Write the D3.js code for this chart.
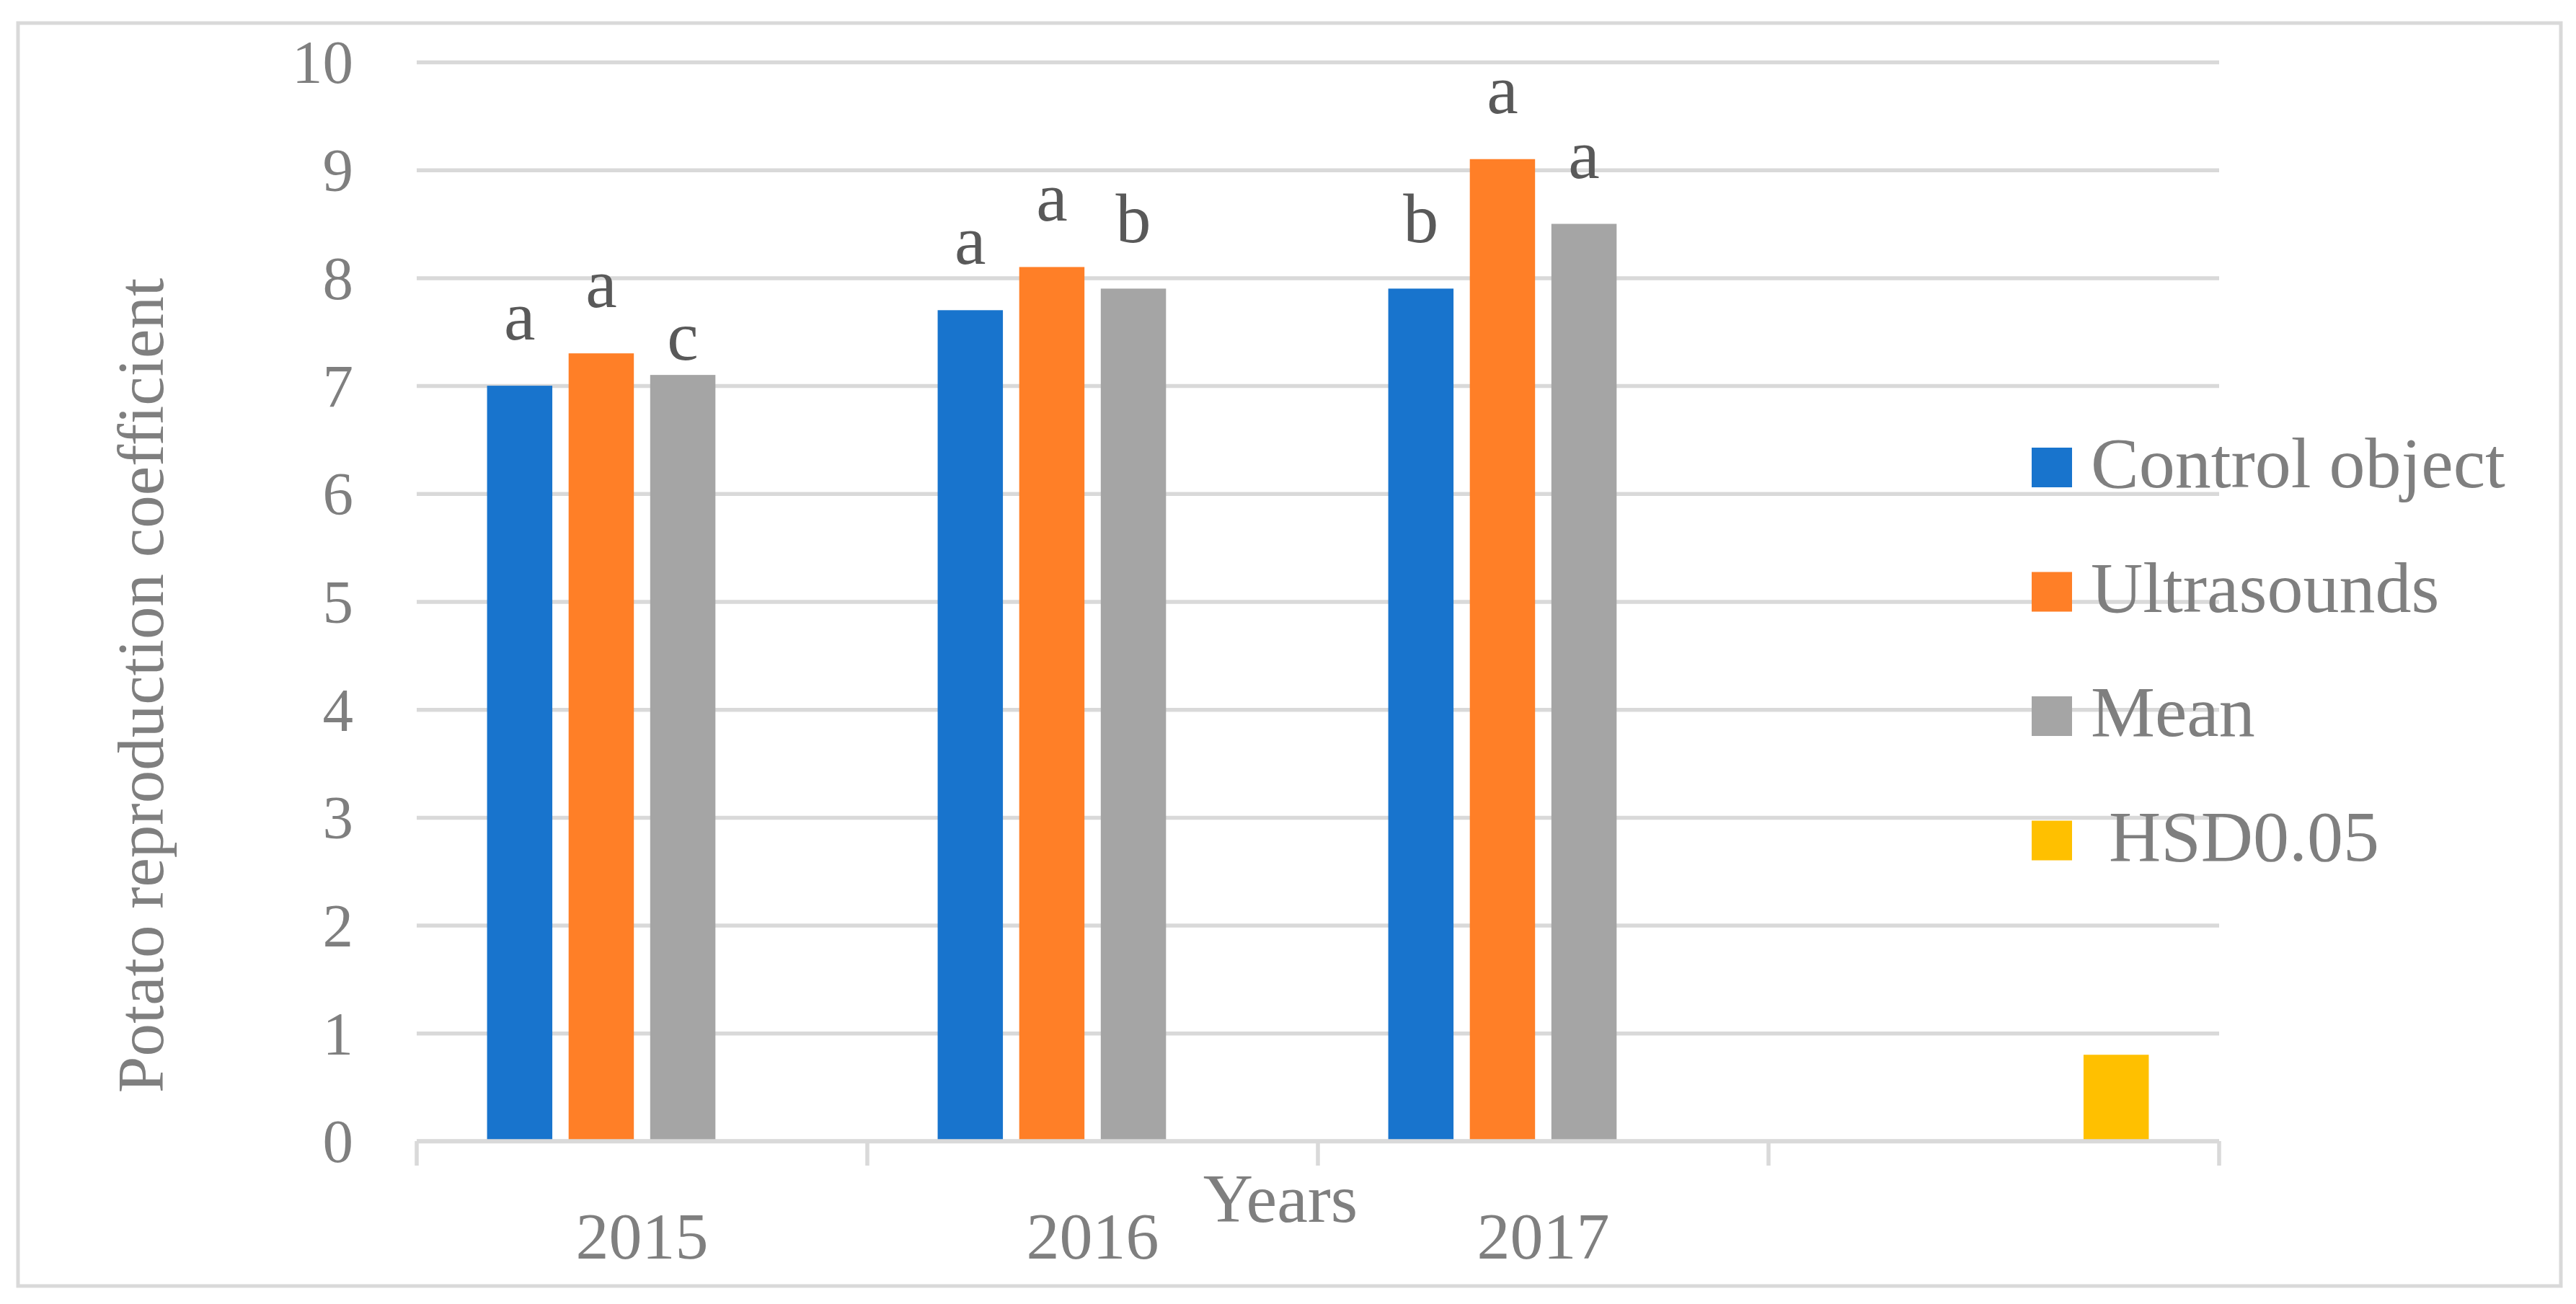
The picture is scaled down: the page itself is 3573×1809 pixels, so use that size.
<!DOCTYPE html>
<html>
<head>
<meta charset="utf-8">
<script src="https://cdn.jsdelivr.net/npm/d3@7"></script>
<style>
  html, body { margin: 0; padding: 0; background: #fff; }
  svg { display: block; }
  text { font-family: "Liberation Serif", "Times New Roman", serif; }
</style>
</head>
<body>
<svg id="chart" width="3573" height="1809"></svg>
<script>
// ---- data ----
const categories = ["2015", "2016", "2017", ""];
const seriesNames = ["Control object", "Ultrasounds", "Mean", " HSD0.05"];
const controlValues = [7.0, 7.7, 7.9, null];
const ultrasoundValues = [7.3, 8.1, 9.1, null];
const meanValues = [7.1, 7.9, 8.5, null];
const hsdValues = [null, null, null, 0.8];
const controlLetters = ["a", "a", "b", null];
const ultrasoundLetters = ["a", "a", "a", null];
const meanLetters = ["c", "b", "a", null];
const yTicks = [0, 1, 2, 3, 4, 5, 6, 7, 8, 9, 10];
const yTitle = "Potato reproduction coefficient";
const xTitle = "Years";

// ---- style ----
const colors = ["#1874cd", "#ff7f27", "#a5a5a5", "#ffc000"];
const gridColor = "#d9d9d9";
const textGray = "#7f7f7f";
const letterColor = "#595959";

const seriesValues = [controlValues, ultrasoundValues, meanValues, hsdValues];
const seriesLetters = [controlLetters, ultrasoundLetters, meanLetters, null];

const svg = d3.select("#chart");

// outer frame
svg.append("rect")
  .attr("x", 25).attr("y", 32).attr("width", 3527).attr("height", 1752)
  .attr("fill", "#fff").attr("stroke", gridColor).attr("stroke-width", 5);

const plot = { left: 578, right: 3078, top: 86, bottom: 1583 };

const x = d3.scaleBand().domain(categories.map((c, i) => i))
  .range([plot.left, plot.right]).paddingInner(0).paddingOuter(0);
const xs = d3.scaleBand().domain(d3.range(seriesNames.length))
  .range([0, x.bandwidth()]).paddingInner(0.2).paddingOuter(0.8625);
const y = d3.scaleLinear().domain([0, 10]).range([plot.bottom, plot.top]);

// gridlines
const grid = svg.append("g").attr("transform", `translate(${plot.left},0)`)
  .call(d3.axisLeft(y).tickValues(yTicks).tickSize(-(plot.right - plot.left)).tickFormat(""));
grid.select(".domain").remove();
grid.selectAll(".tick line").attr("stroke", gridColor).attr("stroke-width", 5.5);

// y tick labels
const yAx = svg.append("g").attr("transform", `translate(490,0)`)
  .call(d3.axisLeft(y).tickValues(yTicks).tickSize(0).tickPadding(0).tickFormat(d3.format("d")));
yAx.select(".domain").remove();
yAx.selectAll("text")
  .attr("fill", textGray).attr("font-size", 85)
  .attr("font-family", "Liberation Serif").attr("dy", "0.34em");

// bars
seriesValues.forEach((vals, si) => {
  svg.append("g").selectAll("rect")
    .data(vals.map((v, ci) => ({ v, ci })).filter(d => d.v != null))
    .join("rect")
    .attr("x", d => x(d.ci) + xs(si))
    .attr("width", xs.bandwidth())
    .attr("y", d => y(d.v))
    .attr("height", d => y(0) - y(d.v))
    .attr("fill", colors[si]);
});

// significance letters
const letterLift = { "0-2": 21 };
seriesLetters.forEach((letters, si) => {
  if (!letters) return;
  letters.forEach((L, ci) => {
    if (!L) return;
    const lift = letterLift[`${ci}-${si}`] ?? 64;
    svg.append("text")
      .attr("x", x(ci) + xs(si) + xs.bandwidth() / 2)
      .attr("y", y(seriesValues[si][ci]) - lift)
      .attr("text-anchor", "middle")
      .attr("font-size", 98)
      .attr("fill", letterColor)
      .text(L);
  });
});

// x axis line + boundary ticks
svg.append("line")
  .attr("x1", plot.left).attr("x2", plot.right)
  .attr("y1", y(0)).attr("y2", y(0))
  .attr("stroke", gridColor).attr("stroke-width", 5.5);
const bounds = categories.map((c, i) => x(i)).concat([x(categories.length - 1) + x.bandwidth()]);
svg.append("g").selectAll("line").data(bounds).join("line")
  .attr("x1", d => d).attr("x2", d => d)
  .attr("y1", y(0)).attr("y2", y(0) + 34)
  .attr("stroke", gridColor).attr("stroke-width", 5.5);

// x tick labels
svg.append("g").selectAll("text").data(categories).join("text")
  .attr("x", (d, i) => x(i) + x.bandwidth() / 2)
  .attr("y", 1746)
  .attr("text-anchor", "middle")
  .attr("font-size", 92)
  .attr("fill", textGray)
  .text(d => d);

// axis titles
svg.append("text")
  .attr("transform", "translate(226,951) rotate(-90)")
  .attr("text-anchor", "middle")
  .attr("font-size", 91)
  .attr("fill", textGray)
  .text(yTitle);
svg.append("text")
  .attr("x", 1776).attr("y", 1695)
  .attr("text-anchor", "middle")
  .attr("font-size", 96)
  .attr("fill", textGray)
  .text(xTitle);

// legend
const legend = svg.append("g").attr("transform", "translate(2818,676)");
seriesNames.forEach((name, i) => {
  const g = legend.append("g").attr("transform", `translate(0,${i * 172.5})`);
  g.append("rect").attr("x", 0).attr("y", -55).attr("width", 56).attr("height", 55)
    .attr("fill", colors[i]);
  g.append("text").attr("x", 82).attr("y", 0)
    .attr("font-size", 100).attr("fill", textGray)
    .attr("xml:space", "preserve").style("white-space", "pre")
    .text(name);
});
</script>
</body>
</html>
